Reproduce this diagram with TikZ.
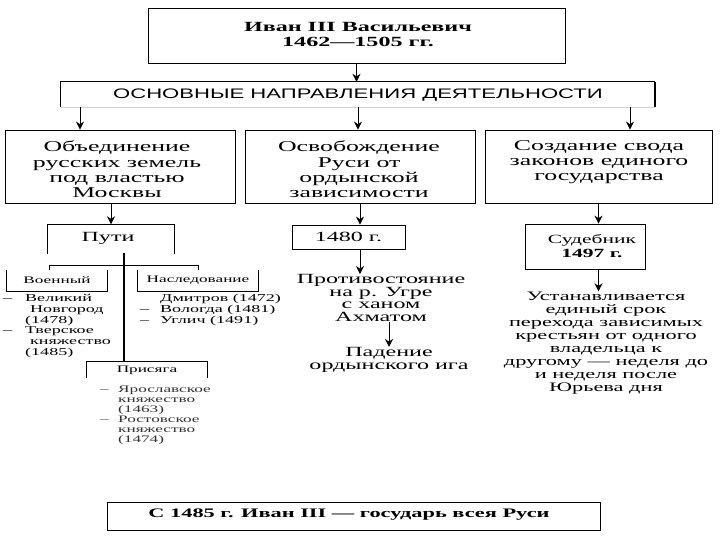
\documentclass[tikz,border=0pt]{standalone}
\usepackage{fontspec}
\usetikzlibrary{arrows.meta}
\setmainfont{Liberation Serif}[FakeStretch=1.72]
\newfontfamily\wsans{Liberation Sans}[FakeStretch=1.6]
\newcommand\mydash[1]{\makebox[#1][l]{–}}
\newcommand\myind[1]{\hspace*{#1}}
\begin{document}
\begin{tikzpicture}[x=1pt,y=-1pt,
  box/.style={draw, line width=0.8pt, inner sep=0pt},
  frame/.style={inner sep=0pt},
  edge/.style={line width=0.8pt},
  heavy/.style={line width=1.6pt},
  arr/.style={line width=1pt, -{Stealth[length=8pt,width=8pt]}},
  txt/.style={inner sep=0pt, align=center},
  lst/.style={inner sep=0pt, align=left, anchor=west},
]
\useasboundingbox (0,0) rectangle (720,540);
\fill[white] (0,0) rectangle (720,540);

% top box
\node[box, minimum width=417pt, minimum height=55pt] (top) at (356.5,35.5) {};
\node[txt, font=\fontsize{14}{15}\selectfont\bfseries] (title) at (358,35) {Иван III Васильевич\\1462—1505 гг.};

% main directions bracket
\node[frame, minimum width=594pt, minimum height=25pt] (osn) at (358,94.5) {};
\draw[edge] (osn.south west) -- (osn.north west) -- (osn.north east);
\draw[heavy] (osn.north east) -- (osn.south east);
\draw[gray!35, line width=0.6pt] (osn.south west) -- (osn.south east);
\node[txt, font=\wsans\fontsize{13.8}{14}\selectfont] (osnt) at (358,95) {ОСНОВНЫЕ НАПРАВЛЕНИЯ ДЕЯТЕЛЬНОСТИ};
\draw[arr] (top.south) -- (top.south |- osn.north);

% three directions
\node[box, minimum width=230pt, minimum height=73pt] (b1) at (120,166.5) {};
\node[box, minimum width=230pt, minimum height=73pt] (b2) at (360,166.5) {};
\node[box, minimum width=227pt, minimum height=73pt] (b3) at (598.5,166.5) {};
\node[txt, font=\fontsize{15}{15.3}\selectfont] (t1) at (117,169.5) {Объединение\\русских земель\\под властью\\Москвы};
\node[txt, font=\fontsize{15}{15.3}\selectfont] (t2) at (359,169.5) {Освобождение\\Руси от\\ордынской\\зависимости};
\node[txt, font=\fontsize{15}{15.3}\selectfont] (t3) at (599,162) {Создание свода\\законов единого\\государства};

\coordinate (c1) at (80,107);
\coordinate (c3) at (630,107);
\draw[arr] (c1) -- (c1 |- b1.north);
\draw[arr] (osn.south) -- (osn.south |- b2.north);
\draw[arr] (c3) -- (c3 |- b3.north);

% ways
\node[frame, minimum width=126pt, minimum height=29pt] (puti) at (111,239) {};
\draw[edge] (puti.south west) -- (puti.north west) -- (puti.north east) -- (puti.south east);
\node[txt, font=\fontsize{14}{15}\selectfont] (putit) at (108,238) {Пути};
\draw[arr] (b1.south -| puti.north) -- (puti.north);

\node[frame, minimum width=100pt, minimum height=21pt, font=\fontsize{10}{11}\selectfont] (voen) at (57,280.5) {Военный};
\draw[edge] (voen.north west) -- (voen.south west) -- (voen.south east) -- (voen.north east);
\node[frame, minimum width=120pt, minimum height=21pt, font=\fontsize{10}{11}\selectfont] (nasl) at (198,280.5) {Наследование};
\draw[edge] (nasl.north west) -- (nasl.south west) -- (nasl.south east) -- (nasl.north east);
\node[frame, minimum width=120pt, minimum height=16pt, font=\fontsize{10}{11}\selectfont] (pris) at (147,370) {Присяга};
\draw[edge] (pris.south west) -- (pris.north west) -- (pris.north east) -- (pris.south east);

\coordinate (h1) at (49,265);
\coordinate (h2) at (198,265);
\coordinate (v1) at (124,253);
\draw[edge] (h1 |- voen.north) -- (h1) -- (h2) -- (h2 |- nasl.north);
\draw[heavy] (v1) -- (v1 |- pris.north);

\node[lst, font=\fontsize{10.5}{10.8}\selectfont] (vlist) at (3,326) {\mydash{22pt}Великий\\\myind{27pt}Новгород\\\myind{22pt}(1478)\\\mydash{22pt}Тверское\\\myind{27pt}княжество\\\myind{22pt}(1485)};
\node[lst, font=\fontsize{10.5}{10.8}\selectfont] (nlist) at (140,310) {\myind{20pt}Дмитров (1472)\\\mydash{20pt}Вологда (1481)\\\mydash{20pt}Углич (1491)};
\node[lst, font=\fontsize{10}{10}\selectfont, text=black!80] (plist) at (100,415) {\mydash{18pt}Ярославское\\\myind{18pt}княжество\\\myind{18pt}(1463)\\\mydash{18pt}Ростовское\\\myind{18pt}княжество\\\myind{18pt}(1474)};

% liberation
\node[box, minimum width=113pt, minimum height=24pt, font=\fontsize{14}{15}\selectfont] (y1480) at (348.5,237) {1480 г.};
\draw[arr] (b2.south) -- (b2.south |- y1480.north);
\node[txt, font=\fontsize{14}{12.7}\selectfont] (prot) at (381,298) {Противостояние\\на р. Угре\\с ханом\\Ахматом};
\draw[arr] (y1480.south -| b2.south) -- (prot.north -| b2.south);
\node[txt, font=\fontsize{14}{13.5}\selectfont] (pad) at (389,360) {Падение\\ордынского ига};
\draw[arr] (prot.south -| pad.north) -- (pad.north);

% code of law
\node[box, minimum width=120pt, minimum height=45pt] (sud) at (585,246.5) {};
\node[txt, font=\fontsize{12.5}{14}\selectfont] (sudt) at (592,246) {Судебник\\\textbf{1497 г.}};
\draw[arr] (b3.south) -- (b3.south |- sud.north);
\node[txt, font=\fontsize{13}{13.1}\selectfont] (ust) at (606,343) {Устанавливается\\единый срок\\перехода зависимых\\крестьян от одного\\владельца к\\другому — неделя до\\и неделя после\\Юрьева дня};
\draw[arr] (sud.south -| b3.south) -- (ust.north -| b3.south);

% bottom
\node[box, minimum width=493pt, minimum height=28pt] (bot) at (353.5,516) {};
\node[txt, font=\fontsize{13}{14}\selectfont\bfseries] (bott) at (349,515) {С 1485 г. Иван III — государь всея Руси};
\end{tikzpicture}
\end{document}
